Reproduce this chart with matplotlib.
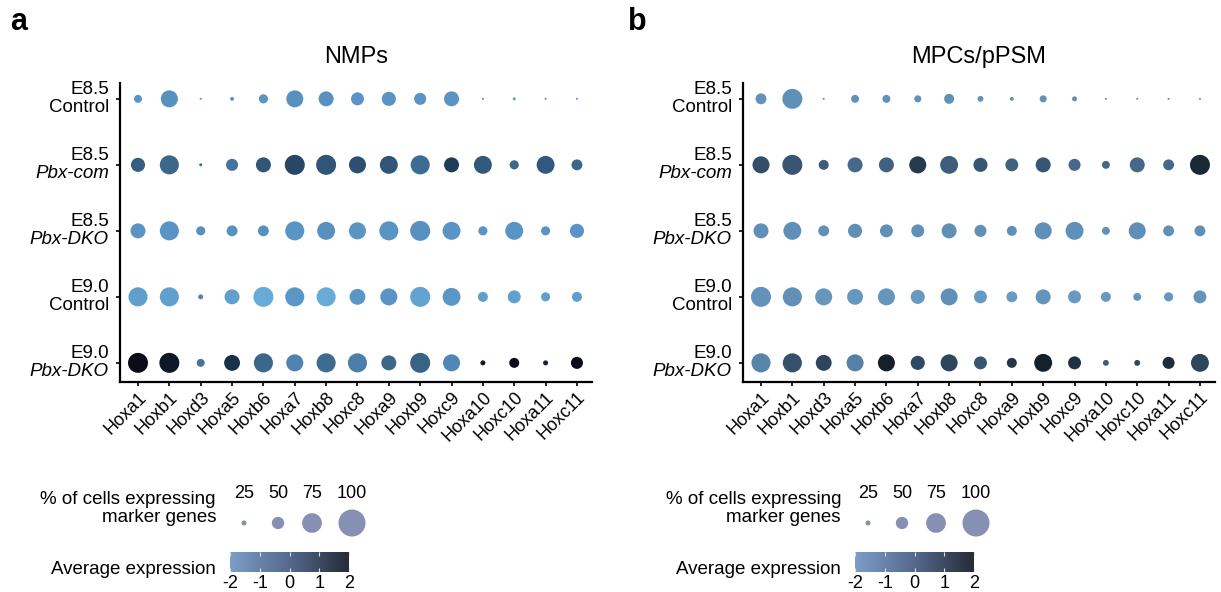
import numpy as np
import matplotlib
matplotlib.use("Agg")
import matplotlib.pyplot as plt
from matplotlib.colors import LinearSegmentedColormap, Normalize
from matplotlib.cm import ScalarMappable

plt.rcParams['font.family'] = ['Liberation Sans', 'DejaVu Sans']

genes = ['Hoxa1', 'Hoxb1', 'Hoxd3', 'Hoxa5', 'Hoxb6', 'Hoxa7', 'Hoxb8', 'Hoxc8',
         'Hoxa9', 'Hoxb9', 'Hoxc9', 'Hoxa10', 'Hoxc10', 'Hoxa11', 'Hoxc11']
stages = ['E8.5', 'E8.5', 'E8.5', 'E9.0', 'E9.0']
conditions = ['Control', 'Pbx-com', 'Pbx-DKO', 'Control', 'Pbx-DKO']

# % of cells expressing (rows = groups top to bottom)
nmp_pct = [
    [35, 66, 15, 21, 39, 66, 59, 52, 56, 49, 59, 15, 18, 15, 15],
    [56, 73, 18, 49, 59, 76, 76, 66, 69, 73, 59, 69, 39, 69, 45],
    [59, 73, 39, 45, 45, 73, 69, 66, 73, 76, 69, 39, 69, 39, 56],
    [73, 73, 25, 59, 76, 73, 73, 62, 66, 76, 69, 42, 52, 39, 42],
    [76, 76, 35, 62, 73, 66, 73, 73, 59, 76, 66, 25, 42, 25, 49],
]
nmp_avg = [
    [-1.0, -0.9, -1.2, -0.9, -1.0, -0.9, -0.9, -1.0, -1.0, -1.0, -1.0, -1.2, -1.2, -1.2, -1.3],
    [0.5, 0.3, 0.3, 0.0, 0.7, 1.0, 0.7, 0.8, 0.7, 0.2, 1.2, 0.6, 0.3, 0.6, 0.3],
    [-1.0, -1.0, -0.9, -0.9, -0.9, -1.0, -0.9, -1.0, -1.0, -0.9, -1.0, -1.0, -1.0, -1.0, -1.0],
    [-1.4, -1.5, -0.6, -1.5, -1.9, -1.1, -1.9, -1.1, -1.0, -1.6, -1.1, -1.5, -1.5, -1.5, -1.4],
    [2.0, 1.8, 0.0, 1.4, 0.3, -0.5, 0.2, -0.3, 0.3, 0.4, -0.6, 1.8, 2.0, 1.6, 2.0],
]

mpc_pct = [
    [45, 76, 15, 35, 35, 32, 42, 28, 21, 32, 25, 15, 15, 15, 15],
    [66, 76, 42, 59, 59, 66, 69, 56, 52, 59, 49, 35, 59, 45, 76],
    [59, 69, 45, 56, 52, 52, 59, 49, 42, 66, 69, 35, 66, 45, 45],
    [76, 73, 66, 62, 66, 56, 66, 52, 45, 59, 52, 42, 35, 39, 52],
    [73, 73, 62, 66, 66, 56, 66, 52, 42, 69, 52, 28, 28, 49, 69],
]
mpc_avg = [
    [-1.1, -1.0, -1.1, -1.1, -1.1, -1.1, -1.0, -1.1, -1.1, -1.1, -1.1, -1.1, -1.1, -1.1, -1.1],
    [0.7, 0.5, 0.3, 0.0, 0.2, 1.2, 0.3, 0.5, 0.2, 0.5, 0.0, 0.0, 0.0, 0.0, 1.6],
    [-1.0, -1.0, -1.0, -1.0, -1.0, -1.0, -1.0, -1.0, -1.0, -1.0, -1.0, -1.0, -1.0, -1.0, -1.0],
    [-1.1, -1.0, -1.3, -1.4, -1.3, -1.5, -1.0, -1.5, -1.5, -1.2, -1.5, -1.5, -1.3, -1.4, -1.2],
    [-0.7, 0.6, 0.9, -0.6, 1.8, 0.8, 0.9, 0.5, 1.3, 1.8, 1.4, 0.3, 0.8, 1.5, 0.9],
]

legend_pct = [25, 50, 75, 100]
cbar_ticks = [-2, -1, 0, 1, 2]

cmap_a = LinearSegmentedColormap.from_list('a', [(0, '#68add8'), (0.25, '#5a94c4'), (0.5, '#44749c'),
                                                  (0.75, '#274865'), (0.875, '#142c44'), (1, '#0a0c18')])
cmap_b = LinearSegmentedColormap.from_list('b', [(0, '#70a2c9'), (0.25, '#6090b8'), (0.5, '#46698a'),
                                                  (0.75, '#2b4258'), (1, '#111820')])
cmap_leg = LinearSegmentedColormap.from_list('leg', ['#7b9dc8', '#55698c', '#252b38'])
norm = Normalize(-2, 2)

W, H = 1221, 592


def size_pts(p):
    d_px = np.clip(0.293 * np.asarray(p, float) - 2.3, 0.8, None)
    return (d_px * 0.72) ** 2


fig = plt.figure(figsize=(W / 100, H / 100), dpi=100)


def dotpanel(left_px, pct, avg, cmap, title, letter, letter_x):
    ax = fig.add_axes([left_px / W, 1 - 382 / H, 472 / W, 299 / H])
    pct = np.array(pct)
    avg = np.array(avg)
    xx, yy = np.meshgrid(np.arange(len(genes)), np.arange(len(conditions)))
    ax.scatter(xx.ravel(), yy.ravel(), s=size_pts(pct.ravel()), c=avg.ravel(),
               cmap=cmap, norm=norm, linewidths=0)
    ax.set_xlim(-0.574, 14.48)
    ax.set_ylim(4.29, -0.24)
    for sp in ['top', 'right']:
        ax.spines[sp].set_visible(False)
    for sp in ['left', 'bottom']:
        ax.spines[sp].set_linewidth(1.6)
    ax.set_xticks(range(len(genes)))
    ax.set_xticklabels(genes, rotation=45, ha='right', rotation_mode='anchor', fontsize=13)
    ax.set_yticks(range(len(conditions)))
    ax.set_yticklabels([])
    ax.tick_params(axis='both', length=3, width=1.2, color='black')
    ax.tick_params(axis='x', pad=2)
    for i, (st, cond) in enumerate(zip(stages, conditions)):
        style = 'normal' if cond == 'Control' else 'italic'
        ax.annotate(st, xy=(0, i), xycoords=('axes fraction', 'data'), xytext=(-8, 6.8),
                    textcoords='offset points', ha='right', va='center', fontsize=13.5)
        ax.annotate(cond, xy=(0, i), xycoords=('axes fraction', 'data'), xytext=(-8, -6.3),
                    textcoords='offset points', ha='right', va='center', fontsize=13.5, style=style)
    fig.text((left_px + 236) / W, 1 - 57 / H, title, ha='center', va='center', fontsize=17)
    fig.text(letter_x / W, 1 - 22 / H, letter, ha='left', va='center', fontsize=22, fontweight='bold')
    return ax


dotpanel(120, nmp_pct, nmp_avg, cmap_a, 'NMPs', 'a', 10)
dotpanel(743, mpc_pct, mpc_avg, cmap_b, 'MPCs/pPSM', 'b', 628)

# overlay in pixel coordinates for legends
ov = fig.add_axes([0, 0, 1, 1])
ov.set_xlim(0, W)
ov.set_ylim(H, 0)
ov.axis('off')


def legend(text_right, dot_xs, cbar_left):
    ov.text(text_right, 499, '% of cells expressing', ha='right', va='center', fontsize=13.5)
    ov.text(text_right, 517, 'marker genes', ha='right', va='center', fontsize=13.5)
    for x, p in zip(dot_xs, legend_pct):
        ov.text(x, 494, str(p), ha='center', va='center', fontsize=13)
    ov.scatter(dot_xs, [523] * len(dot_xs), s=size_pts(legend_pct), color='#8590b3', linewidths=0)
    ov.text(text_right, 569, 'Average expression', ha='right', va='center', fontsize=13.5)
    cax = fig.add_axes([cbar_left / W, 1 - 572 / H, 119 / W, 20 / H])
    cb = fig.colorbar(ScalarMappable(norm=norm, cmap=cmap_leg), cax=cax, orientation='horizontal')
    cb.outline.set_visible(False)
    cb.set_ticks(cbar_ticks)
    cb.set_ticklabels([str(t) for t in cbar_ticks])
    cax.tick_params(axis='x', direction='in', color='#d8e4f2', length=3, width=0.8,
                    top=True, bottom=True, labelsize=13, pad=2)


legend(216, [244, 278, 312, 352], 230)
legend(841, [868, 902, 936, 976], 855)

fig.savefig('out.png', dpi=100)
